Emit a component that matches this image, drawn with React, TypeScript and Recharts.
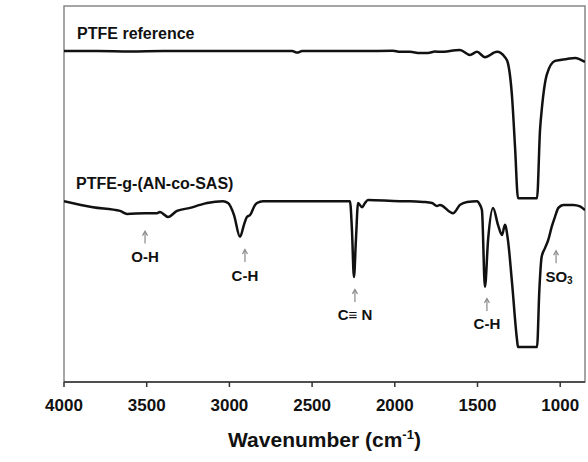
import React from 'react';
import { LineChart, Line, XAxis, YAxis, ReferenceArea, ReferenceDot } from 'recharts';

// PTFE reference spectrum (wavenumber, transmittance a.u.)
const ptfeWn = [4000, 3800, 3600, 3400, 3200, 3000, 2800, 2620, 2590, 2560, 2400, 2200, 2011, 1969, 1908, 1848, 1799, 1757, 1727, 1606, 1545, 1503, 1455, 1382, 1334, 1316, 1291, 1273, 1255, 1140, 1122, 1110, 1080, 1031, 959, 910, 850];
const ptfeT = [88.0, 88.0, 87.9, 88.0, 88.0, 88.0, 88.0, 88.0, 87.6, 88.0, 88.0, 88.0, 88.1, 87.8, 87.8, 87.5, 87.5, 87.9, 87.8, 88.3, 87.0, 87.8, 86.4, 87.8, 86.4, 84.8, 75.8, 62.5, 48.9, 48.9, 67.0, 73.1, 81.9, 85.4, 85.9, 86.2, 85.1];

// PTFE-g-(AN-co-SAS) spectrum
const graftWn = [4000, 3825, 3661, 3619, 3510, 3438, 3420, 3371, 3317, 3238, 3178, 3135, 3039, 3008, 2972, 2936, 2912, 2894, 2875, 2845, 2833, 2797, 2600, 2400, 2271, 2259, 2247, 2235, 2222, 2198, 2180, 2162, 1969, 1908, 1829, 1775, 1745, 1727, 1648, 1606, 1563, 1503, 1485, 1473, 1455, 1436, 1406, 1376, 1352, 1334, 1316, 1291, 1261, 1255, 1140, 1126, 1112, 1092, 1072, 1051, 1031, 1011, 981, 921, 880, 850];
const graftT = [48.1, 46.5, 45.5, 44.7, 44.9, 44.9, 45.2, 43.9, 45.5, 46.3, 47.1, 47.6, 48.1, 47.6, 44.4, 38.6, 41.8, 43.9, 44.4, 47.1, 47.6, 48.1, 48.1, 48.1, 48.1, 40.4, 27.9, 37.8, 47.6, 46.5, 47.6, 48.4, 48.1, 48.1, 47.9, 47.6, 46.8, 47.1, 44.9, 47.1, 47.9, 48.1, 47.1, 45.7, 25.3, 37.8, 46.3, 41.8, 39.1, 41.8, 37.8, 26.3, 11.2, 9.3, 9.3, 24.5, 33.3, 35.6, 37.8, 41.3, 44.0, 46.3, 47.1, 47.1, 46.7, 45.7];

const xTicks = [4000, 3500, 3000, 2500, 2000, 1500, 1000];

// peak annotations: wavenumber, arrow position, label
const annWn = [3510, 2906, 2241, 1443, 1025];
const annT = [38.4, 33.5, 22.9, 20.5, 33.2];
const annText = ['O-H', 'C-H', 'C\u2261 N', 'C-H', 'SO3'];

// series name labels
const nameWn = [3921, 3927];
const nameT = [92.8, 52.9];
const nameText = ['PTFE reference', 'PTFE-g-(AN-co-SAS)'];

const ptfeData = ptfeWn.map((wn, i) => ({ wn, t: ptfeT[i] }));
const graftData = graftWn.map((wn, i) => ({ wn, t: graftT[i] }));

const FONT = '"Liberation Sans", Arial, Helvetica, sans-serif';

const XTitle = (props: any) => {
  const vb = props.viewBox || {};
  const cx = vb.x + vb.width / 2;
  return (
    <text x={cx} y={vb.y + 65} textAnchor="middle" fontFamily={FONT} fontWeight="bold" fontSize={21} fill="#111">
      Wavenumber (cm<tspan dy={-8} fontSize={13}>-1</tspan><tspan dy={8}>)</tspan>
    </text>
  );
};

const YTitle = () => (
  <text x={0} y={0} transform="translate(34,206) rotate(-90)" textAnchor="middle" fontFamily={FONT} fontWeight="bold" fontSize={22} fill="#111">
    Transmittance (%)
  </text>
);

const makeAnn = (text: string) => (props: any) => {
  const { cx, cy } = props;
  return (
    <g>
      <line x1={cx} y1={cy + 6} x2={cx} y2={cy - 5} stroke="#888" strokeWidth={1.2} />
      <path d={`M${cx - 2.5},${cy - 2} L${cx},${cy - 6.5} L${cx + 2.5},${cy - 2}`} fill="none" stroke="#888" strokeWidth={1.2} />
      {text === 'SO3' ? (
        <text x={cx + 3} y={cy + 19} textAnchor="middle" dominantBaseline="central" fontFamily={FONT} fontWeight="bold" fontSize={15} fill="#111">
          SO<tspan dy={4} fontSize={10}>3</tspan>
        </text>
      ) : (
        <text x={cx} y={cy + 19} textAnchor="middle" dominantBaseline="central" fontFamily={FONT} fontWeight="bold" fontSize={15} fill="#111">
          {text}
        </text>
      )}
    </g>
  );
};

const makeName = (text: string) => (props: any) => {
  const { cx, cy } = props;
  return (
    <text x={cx} y={cy} textAnchor="start" dominantBaseline="central" fontFamily={FONT} fontWeight="bold" fontSize={16} fill="#111">
      {text}
    </text>
  );
};

export default function App() {
  return (
    <div style={{ position: 'absolute', left: 0, top: 0, width: 588, height: 462, background: '#fff' }}>
      <LineChart width={588} height={462} margin={{ top: 6, right: 3, bottom: 0, left: 64 }}>
        <ReferenceArea x1={4000} x2={850} y1={0} y2={100} fill="none" stroke="#888" strokeWidth={1.5} ifOverflow="extendDomain" />
        <XAxis
          type="number"
          dataKey="wn"
          domain={[850, 4000]}
          reversed
          allowDataOverflow
          ticks={xTicks}
          height={80}
          tickSize={5}
          tickMargin={12}
          axisLine={{ stroke: '#333', strokeWidth: 1.5 }}
          tickLine={{ stroke: '#333', strokeWidth: 1.5 }}
          tick={{ fontFamily: FONT, fontWeight: 'bold', fontSize: 17, fill: '#111' }}
          label={<XTitle />}
        />
        <YAxis
          type="number"
          domain={[0, 100]}
          width={0}
          tick={false}
          tickLine={false}
          axisLine={{ stroke: '#333', strokeWidth: 1.5 }}
          label={<YTitle />}
        />
        <Line data={ptfeData} dataKey="t" type="monotone" stroke="#111" strokeWidth={2.5} dot={false} isAnimationActive={false} />
        <Line data={graftData} dataKey="t" type="monotone" stroke="#111" strokeWidth={2.5} dot={false} isAnimationActive={false} />
        {annWn.map((wn, i) => (
          <ReferenceDot key={'a' + i} x={wn} y={annT[i]} r={0} shape={makeAnn(annText[i])} />
        ))}
        {nameWn.map((wn, i) => (
          <ReferenceDot key={'n' + i} x={wn} y={nameT[i]} r={0} shape={makeName(nameText[i])} />
        ))}
      </LineChart>
    </div>
  );
}
